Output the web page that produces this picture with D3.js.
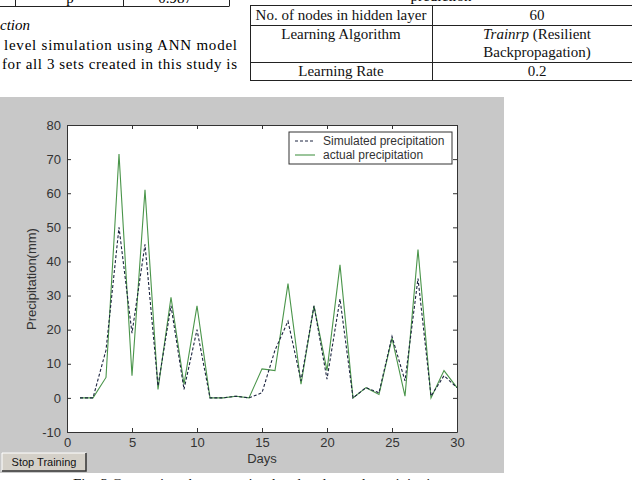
<!DOCTYPE html>
<html>
<head>
<meta charset="utf-8">
<script src="https://cdn.jsdelivr.net/npm/d3@7"></script>
<style>
  body { margin: 0; background: #fff; }
  svg { display: block; }
</style>
</head>
<body>
<svg id="page" width="632" height="480"></svg>
<script>
// data
var days = d3.range(1, 31);
var actual = [0, 0, 6, 71.5, 6.5, 61, 2.5, 29.5, 4, 27,
              0, 0, 0.5, 0, 8.5, 8, 33.5, 4, 27, 8,
              39, 0, 3, 1, 17.5, 0.5, 43.5, 0, 8, 3];
var simulated = [0, 0, 14, 50, 19, 45, 3.5, 27, 2.5, 20,
                 0, 0, 0.5, 0, 1.5, 14, 22.5, 5, 27, 5.5,
                 29, 0, 3, 1.5, 18, 5, 35, 0.5, 6.5, 3];
var xTicks = [0, 5, 10, 15, 20, 25, 30];
var yTicks = [-10, 0, 10, 20, 30, 40, 50, 60, 70, 80];

var svg = d3.select("#page");

// ---- surrounding document text ----
var serif = "'Liberation Serif', 'Times New Roman', serif";

// left column: bottom of a table
svg.append("line").attr("x1", 0).attr("x2", 229).attr("y1", 6.5).attr("y2", 6.5).attr("stroke", "#222");
[15, 123, 229].forEach(function(x) {
  svg.append("line").attr("x1", x + 0.5).attr("x2", x + 0.5).attr("y1", -2).attr("y2", 6.5).attr("stroke", "#222");
});
svg.append("text").attr("x", 175).attr("y", 3).attr("text-anchor", "middle")
  .attr("font-family", serif).attr("font-size", 15).text("0.987");
svg.append("text").attr("x", 70).attr("y", 3).attr("text-anchor", "middle")
  .attr("font-family", serif).attr("font-size", 15).text("p");

svg.append("text").attr("x", 0).attr("y", 30).attr("font-family", serif)
  .attr("font-size", 15).attr("font-style", "italic").text("ction");
svg.append("text").attr("x", 4).attr("y", 50).attr("font-family", serif)
  .attr("font-size", 15).attr("textLength", 233).attr("lengthAdjust", "spacing")
  .text("level simulation using ANN model");
svg.append("text").attr("x", 2).attr("y", 69).attr("font-family", serif)
  .attr("font-size", 15).attr("textLength", 235).attr("lengthAdjust", "spacing")
  .text("for all 3 sets created in this study is");

// right column: table
var tbl = svg.append("g");
tbl.append("text").attr("x", 441).attr("y", 1).attr("text-anchor", "middle")
  .attr("font-family", serif).attr("font-size", 15).text("prediction");
[5, 25, 62, 80].forEach(function(y) {
  tbl.append("line").attr("x1", 250).attr("x2", 632).attr("y1", y + 0.5).attr("y2", y + 0.5).attr("stroke", "#222");
});
[250, 432].forEach(function(x) {
  tbl.append("line").attr("x1", x + 0.5).attr("x2", x + 0.5).attr("y1", 5).attr("y2", 80).attr("stroke", "#222");
});
var cells = [
  ["No. of nodes in hidden layer", 341, 20], ["60", 537, 20],
  ["Learning Algorithm", 341, 39], ["Learning Rate", 341, 76], ["0.2", 537, 76],
  ["Backpropagation)", 537, 57]
];
cells.forEach(function(c) {
  tbl.append("text").attr("x", c[1]).attr("y", c[2]).attr("text-anchor", "middle")
    .attr("font-family", serif).attr("font-size", 15).attr("fill", "#111").text(c[0]);
});
var tr = tbl.append("text").attr("x", 537).attr("y", 39).attr("text-anchor", "middle")
  .attr("font-family", serif).attr("font-size", 15).attr("fill", "#111");
tr.append("tspan").attr("font-style", "italic").text("Trainrp");
tr.append("tspan").text(" (Resilient");

// ---- MATLAB figure ----
svg.append("rect").attr("x", 0).attr("y", 97).attr("width", 504).attr("height", 376).attr("fill", "#c8c8c8");

var x = d3.scaleLinear().domain([0, 30]).range([67, 457]);
var y = d3.scaleLinear().domain([-10, 80]).range([432, 125]);

svg.append("rect").attr("x", 67).attr("y", 125).attr("width", 390).attr("height", 307)
  .attr("fill", "#fff");

var sans = "'Liberation Sans', Arial, sans-serif";
var plain = function(d) { return String(d); };

var ax = svg.append("g");

var axBottom = d3.axisBottom(x).tickValues(xTicks).tickFormat(plain).tickSizeInner(-4).tickSizeOuter(0).tickPadding(6);
ax.append("g").attr("transform", "translate(0,432)").call(axBottom);
var axTop = d3.axisTop(x).tickValues(xTicks).tickSizeInner(-4).tickSizeOuter(0).tickFormat("");
ax.append("g").attr("transform", "translate(0,125)").call(axTop);
var axLeft = d3.axisLeft(y).tickValues(yTicks).tickFormat(plain).tickSizeInner(-4).tickSizeOuter(0).tickPadding(6);
ax.append("g").attr("transform", "translate(67,0)").call(axLeft);
var axRight = d3.axisRight(y).tickValues(yTicks).tickSizeInner(-4).tickSizeOuter(0).tickFormat("");
ax.append("g").attr("transform", "translate(457,0)").call(axRight);

ax.selectAll(".domain").attr("stroke", "#333");
ax.selectAll(".tick line").attr("stroke", "#333");
ax.selectAll("text").attr("fill", "#333").attr("font-family", sans).attr("font-size", 13);

svg.append("text").attr("x", 262).attr("y", 463).attr("text-anchor", "middle")
  .attr("font-family", sans).attr("font-size", 13).attr("fill", "#333").text("Days");
svg.append("text").attr("transform", "translate(36,279) rotate(-90)").attr("text-anchor", "middle")
  .attr("font-family", sans).attr("font-size", 13).attr("fill", "#333").text("Precipitation(mm)");

var line = d3.line().x(function(d) { return x(d[0]); }).y(function(d) { return y(d[1]); });

svg.append("path").datum(days.map(function(d, i) { return [d, actual[i]]; }))
  .attr("d", line).attr("fill", "none").attr("stroke", "#4a954a").attr("stroke-width", 1.1);
svg.append("path").datum(days.map(function(d, i) { return [d, simulated[i]]; }))
  .attr("d", line).attr("fill", "none").attr("stroke", "#1c2440").attr("stroke-width", 1.1)
  .attr("stroke-dasharray", "3,2");

// legend
var lg = svg.append("g").attr("transform", "translate(289,132)");
lg.append("rect").attr("width", 163).attr("height", 32).attr("fill", "#fff").attr("stroke", "#333");
lg.append("line").attr("x1", 6).attr("x2", 26).attr("y1", 9).attr("y2", 9)
  .attr("stroke", "#1c2440").attr("stroke-dasharray", "3,2");
lg.append("line").attr("x1", 6).attr("x2", 26).attr("y1", 23).attr("y2", 23)
  .attr("stroke", "#4a954a").attr("stroke-width", 1.1);
lg.append("text").attr("x", 34).attr("y", 13).attr("font-family", sans).attr("font-size", 12)
  .attr("fill", "#333").text("Simulated precipitation");
lg.append("text").attr("x", 34).attr("y", 27).attr("font-family", sans).attr("font-size", 12)
  .attr("fill", "#333").text("actual precipitation");

// Stop Training button
var btn = svg.append("g").attr("transform", "translate(2,453)");
btn.append("rect").attr("width", 84).attr("height", 18).attr("fill", "#d4d0c8");
btn.append("path").attr("d", "M0,18 V0 H84").attr("fill", "none").attr("stroke", "#fff");
btn.append("path").attr("d", "M0,18 H84 V0").attr("fill", "none").attr("stroke", "#333").attr("stroke-width", 1.5);
btn.append("text").attr("x", 42).attr("y", 13).attr("text-anchor", "middle")
  .attr("font-family", sans).attr("font-size", 11).attr("fill", "#111").text("Stop Training");

// caption (cut at the page bottom)
svg.append("text").attr("x", 73).attr("y", 489).attr("font-family", serif).attr("font-size", 15)
  .attr("fill", "#111").text("Fig. 3 Comparison between simulated and actual precipitation");
</script>
</body>
</html>
